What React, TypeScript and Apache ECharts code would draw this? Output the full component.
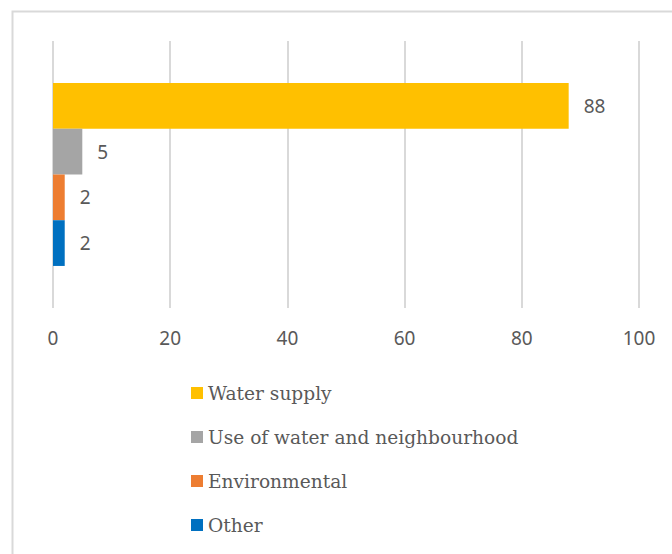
import React, { useEffect, useRef } from "react";
import * as echarts from "echarts";

const seriesNames = ["Water supply", "Use of water and neighbourhood", "Environmental", "Other"];
const seriesValues = [88, 5, 2, 2];
const seriesColors = ["#FFC000", "#A5A5A5", "#ED7D31", "#0070C0"];
const categories = ["Reason"];

export default function App() {
  const ref = useRef<HTMLDivElement>(null);
  useEffect(() => {
    const chart = echarts.init(ref.current!, null, { renderer: "svg" });
    chart.setOption({
      animation: false,
      backgroundColor: "#ffffff",
      graphic: [
        {
          type: "rect",
          shape: { x: 12.5, y: 11.5, width: 800, height: 700 },
          style: { fill: "none", stroke: "#d9d9d9", lineWidth: 2 },
          silent: true,
        },
      ],
      grid: { left: 53, right: 33, top: 41, bottom: 246, containLabel: false },
      xAxis: {
        type: "value",
        min: 0,
        max: 100,
        interval: 20,
        axisLine: { show: false },
        axisTick: { show: false },
        splitLine: { show: true, lineStyle: { color: "#d9d9d9", width: 2 } },
        axisLabel: {
          color: "#595959",
          fontFamily: "Noto Sans",
          fontSize: 19,
          margin: 20,
        },
      },
      yAxis: {
        type: "category",
        data: categories,
        inverse: true,
        axisLine: { show: false },
        axisTick: { show: false },
        axisLabel: { show: false },
        splitLine: { show: false },
      },
      legend: {
        orient: "vertical",
        left: 186,
        top: 378,
        itemWidth: 12,
        itemHeight: 12,
        itemGap: 24,
        icon: "rect",
        data: seriesNames,
        textStyle: {
          color: "#595959",
          fontFamily: "DejaVu Serif",
          fontSize: 18.6,
          lineHeight: 20,
        },
      },
      series: seriesNames.map((name, i) => ({
        type: "bar",
        name,
        data: [seriesValues[i]],
        barGap: "0%",
        barCategoryGap: "31.5%",
        itemStyle: { color: seriesColors[i] },
        label: {
          show: true,
          position: "right",
          distance: 15,
          color: "#595959",
          fontFamily: "Noto Sans",
          fontSize: 19,
        },
      })),
    });
    return () => chart.dispose();
  }, []);
  return (
    <div
      ref={ref}
      style={{ position: "fixed", left: 0, top: 0, width: 672, height: 554 }}
    />
  );
}
